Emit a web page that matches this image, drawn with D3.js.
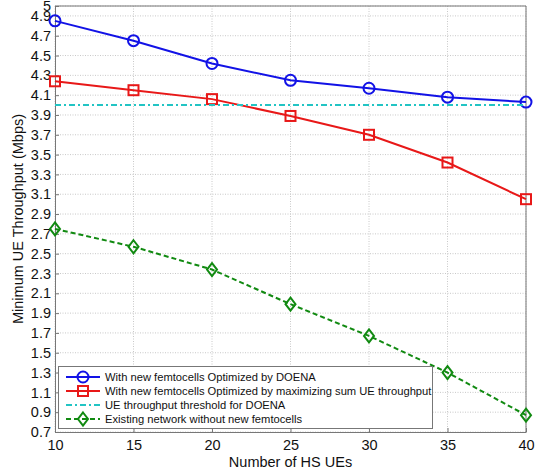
<!DOCTYPE html>
<html>
<head>
<meta charset="utf-8">
<script src="https://cdn.jsdelivr.net/npm/d3@7"></script>
<style>
  body { margin: 0; background: #fff; }
  text { font-family: "Liberation Sans", Arial, sans-serif; fill: #111; }
</style>
</head>
<body>
<svg id="chart" width="542" height="472"></svg>
<script>
// Data
var ues = [10, 15, 20, 25, 30, 35, 40];
var doena = [4.85, 4.65, 4.42, 4.25, 4.17, 4.08, 4.03];
var maxSum = [4.24, 4.15, 4.06, 3.89, 3.70, 3.42, 3.05];
var threshold = [4.0, 4.0, 4.0, 4.0, 4.0, 4.0, 4.0];
var existing = [2.75, 2.57, 2.34, 1.99, 1.67, 1.30, 0.87];

var xTicks = [10, 15, 20, 25, 30, 35, 40];
var yTicks = [0.7, 0.9, 1.1, 1.3, 1.5, 1.7, 1.9, 2.1, 2.3, 2.5, 2.7, 2.9, 3.1, 3.3, 3.5, 3.7, 3.9, 4.1, 4.3, 4.5, 4.7, 4.9, 5];

var labels = [
  'With new femtocells Optimized by DOENA',
  'With new femtocells Optimized by maximizing sum UE throughput',
  'UE throughput threshold for DOENA',
  'Existing network without new femtocells'
];

// plot area (window.top is reserved, so use own names)
var pLeft = 55, pRight = 526, pTop = 6, pBottom = 432;

var x = d3.scaleLinear().domain([10, 40]).range([pLeft, pRight]);
var y = d3.scaleLinear().domain([0.7, 5]).range([pBottom, pTop]);

var svg = d3.select('#chart');

// grid
var grid = svg.append('g');
grid.selectAll('.gx')
  .data(xTicks)
  .enter()
  .append('line')
  .attr('x1', (d) => x(d)).attr('x2', (d) => x(d))
  .attr('y1', pTop).attr('y2', pBottom)
  .style('stroke', '#c8c8c8')
  .style('stroke-width', 1)
  .style('stroke-dasharray', '1,1.5');
grid.selectAll('.gy')
  .data(yTicks)
  .enter()
  .append('line')
  .attr('x1', pLeft).attr('x2', pRight)
  .attr('y1', (d) => y(d)).attr('y2', (d) => y(d))
  .style('stroke', '#c8c8c8')
  .style('stroke-width', 1)
  .style('stroke-dasharray', '1,1.5');

// axes
var xAxis = d3.axisBottom(x).tickValues(xTicks).tickSizeInner(-4).tickSizeOuter(0).tickPadding(8)
  .tickFormat(d3.format('d'));
var yAxis = d3.axisLeft(y).tickValues(yTicks).tickSizeInner(-4).tickSizeOuter(0).tickPadding(4)
  .tickFormat((d) => d === 5 ? '5' : d3.format('.1f')(d));

var gx = svg.append('g').attr('transform', 'translate(0,' + pBottom + ')').call(xAxis);
var gy = svg.append('g').attr('transform', 'translate(' + pLeft + ',0)').call(yAxis);
[gx, gy].forEach((g) => {
  g.selectAll('path, line').style('stroke', '#777');
  g.selectAll('text').style('font-size', '14.5px').style('font-family', '"Liberation Sans", Arial, sans-serif').style('fill', '#111');
});
gx.selectAll('text').attr('dy', '0.71em');

// box top/right
svg.append('line').attr('x1', pLeft).attr('x2', pRight).attr('y1', pTop).attr('y2', pTop).style('stroke', '#777');
svg.append('line').attr('x1', pRight).attr('x2', pRight).attr('y1', pTop).attr('y2', pBottom).style('stroke', '#777');

// axis titles
svg.append('text')
  .attr('x', (pLeft + pRight) / 2)
  .attr('y', 467)
  .attr('text-anchor', 'middle')
  .style('font-size', '14.5px')
  .text('Number of HS UEs');
svg.append('text')
  .attr('transform', 'translate(23,' + ((pTop + pBottom) / 2) + ') rotate(-90)')
  .attr('text-anchor', 'middle')
  .style('font-size', '14.5px')
  .text('Minimum UE Throughput (Mbps)');

var series = [
  { values: doena, color: '#1212e6', dash: null, marker: 'circle' },
  { values: maxSum, color: '#e81818', dash: null, marker: 'square' },
  { values: threshold, color: '#22c4c4', dash: '6,3,2,3', marker: null },
  { values: existing, color: '#118a11', dash: '5,3', marker: 'diamond' }
];

var line = d3.line().x((d) => x(d[0])).y((d) => y(d[1]));

function drawMarker(g, type, cx, cy, color) {
  if (type === 'circle') {
    g.append('circle').attr('cx', cx).attr('cy', cy).attr('r', 5.5)
      .style('fill', 'none').style('stroke', color).style('stroke-width', 2);
  } else if (type === 'square') {
    g.append('rect').attr('x', cx - 5).attr('y', cy - 5).attr('width', 10).attr('height', 10)
      .style('fill', 'none').style('stroke', color).style('stroke-width', 2);
  } else if (type === 'diamond') {
    g.append('path')
      .attr('d', 'M' + cx + ',' + (cy - 6.5) + ' L' + (cx + 5) + ',' + cy + ' L' + cx + ',' + (cy + 6.5) + ' L' + (cx - 5) + ',' + cy + ' Z')
      .style('fill', 'none').style('stroke', color).style('stroke-width', 2);
  }
}

series.forEach((s) => {
  var pts = ues.map((u, i) => [u, s.values[i]]);
  svg.append('path')
    .datum(pts)
    .attr('d', line)
    .style('fill', 'none')
    .style('stroke', s.color)
    .style('stroke-width', 2)
    .style('stroke-dasharray', s.dash);
  if (s.marker) {
    var g = svg.append('g');
    pts.forEach((p) => drawMarker(g, s.marker, x(p[0]), y(p[1]), s.color));
  }
});

// legend
var lg = svg.append('g');
lg.append('rect')
  .attr('x', 58.5).attr('y', 366.5).attr('width', 374).attr('height', 62)
  .style('fill', '#fff').style('stroke', '#777').style('stroke-width', 1);
series.forEach((s, i) => {
  var ly = 377 + i * 14;
  lg.append('line')
    .attr('x1', 66).attr('x2', 100).attr('y1', ly).attr('y2', ly)
    .style('stroke', s.color).style('stroke-width', 2)
    .style('stroke-dasharray', s.dash);
  if (s.marker) drawMarker(lg, s.marker, 83, ly, s.color);
  lg.append('text')
    .attr('x', 105).attr('y', ly + 4)
    .style('font-size', '11.2px')
    .text(labels[i]);
});
</script>
</body>
</html>
